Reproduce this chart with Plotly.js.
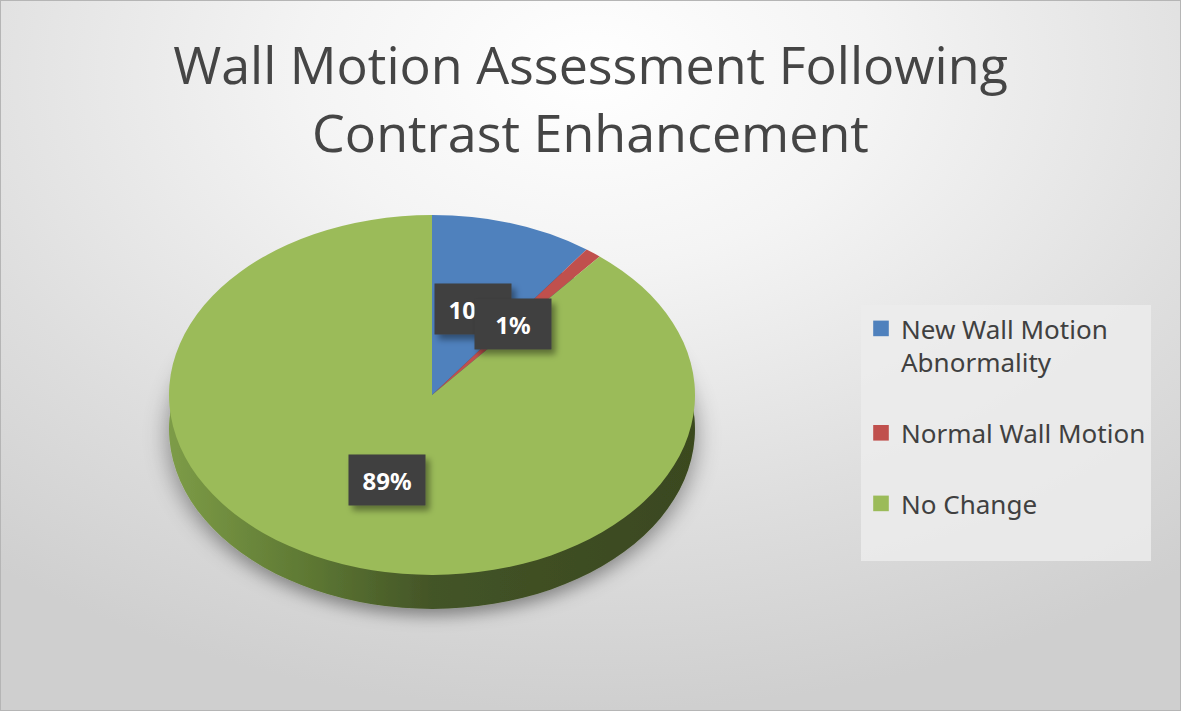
<!DOCTYPE html>
<html><head><meta charset="utf-8">
<script src="https://cdn.plot.ly/plotly-3.0.1.min.js"></script>
<style>
html,body{margin:0;padding:0;background:#ffffff;}
#chart{width:1181px;height:711px;background:radial-gradient(ellipse 80% 90% at 50% 10%, #ffffff 0%, #f4f4f4 30%, #dedede 70%, #cfcfcf 100%);}
</style></head><body><div id="chart"></div>
<script>
// ---- data ----
const categories = ["New Wall Motion Abnormality", "Normal Wall Motion", "No Change"];
const values = [10, 1, 89];
const topColors = ["#4f81bd", "#c0504d", "#9bbb59"];
const sideColors = ["#2f5077", "#7a2f2d", "#55702f"];
const chartTitle = "Wall Motion Assessment Following<br>Contrast Enhancement";

// legend display text (wrapped / spaced like the original legend)
const legendLabels = ["New Wall Motion<br>Abnormality<br> ", "Normal Wall Motion<br> ", "No Change<br> "];
const percentLabels = values.map(v => v + "%");

// ---- geometry (pixels) ----
const W = 1181, H = 711;
const CX = 432, CY = 395, R = 263, SQ = 0.684, DEPTH = 34;

function dom(cy) {
  return {
    x: [(CX - R) / W, (CX + R) / W],
    y: [1 - (cy + R) / H, 1 - (cy - R) / H]
  };
}

const sideTrace = {
  type: "pie", labels: legendLabels, values: values, sort: false, direction: "clockwise", rotation: 0,
  marker: {colors: sideColors, line: {width: 0}}, textinfo: "none", showlegend: false,
  domain: dom(CY + DEPTH), hoverinfo: "skip"
};
const topTrace = {
  type: "pie", labels: legendLabels, values: values, sort: false, direction: "clockwise", rotation: 0,
  marker: {colors: topColors, line: {width: 0}}, textinfo: "none",
  domain: dom(CY), hoverinfo: "skip"
};

// data labels positioned at the slice mid-angles (computed from values)
const total = values.reduce((a, b) => a + b, 0);
let cum = 0;
const F = 0.5;
const annotations = values.map((v, i) => {
  const mid = (cum + v / 2) / total; cum += v;
  const th = 2 * Math.PI * mid;
  const px = CX + F * R * Math.sin(th);
  const py = CY - F * R * SQ * Math.cos(th);
  return {
    xref: "paper", yref: "paper", x: px / W, y: 1 - py / H, xanchor: "center", yanchor: "middle",
    text: "<b>" + percentLabels[i] + "</b>", showarrow: false,
    font: {family: "Noto Sans", size: 24, color: "#ffffff"},
    bgcolor: "#3f3f3f", width: 76, height: 50, borderpad: 0
  };
});

const layout = {
  width: W, height: H,
  margin: {l: 0, r: 0, t: 0, b: 0},
  paper_bgcolor: "rgba(0,0,0,0)", plot_bgcolor: "rgba(0,0,0,0)",
  title: {
    text: chartTitle, x: 0.5, xanchor: "center", xref: "container",
    y: 1 - 84 / H, yanchor: "top", yref: "container",
    font: {family: "Open Sans", size: 52, color: "#454545", weight: 400}
  },
  legend: {
    x: 861 / W, xanchor: "left", y: 1 - 305 / H, yanchor: "top",
    bgcolor: "rgba(236,236,236,0.85)", borderwidth: 0, valign: "top",
    font: {family: "Noto Sans", size: 26, color: "#404040"}
  },
  annotations: annotations,
  shapes: [{type: "rect", xref: "paper", yref: "paper", x0: 0, x1: 1, y0: 0, y1: 1,
            line: {color: "#b5b5b5", width: 2}, layer: "above"}],
  hovermode: false
};

const gd = document.getElementById("chart");
Plotly.newPlot(gd, [sideTrace, topTrace], layout, {staticPlot: true, displayModeBar: false}).then(() => {
  const svgNS = "http://www.w3.org/2000/svg";
  const svg = gd.querySelector(".main-svg");
  let defs = svg.querySelector("defs");
  if (!defs) { defs = document.createElementNS(svgNS, "defs"); svg.insertBefore(defs, svg.firstChild); }
  defs.insertAdjacentHTML("beforeend",
    '<linearGradient id="sideGrad" x1="0" y1="0" x2="1" y2="0">' +
    '<stop offset="0" stop-color="#7d9c47"/><stop offset="0.28" stop-color="#5c7632"/>' +
    '<stop offset="0.5" stop-color="#435427"/><stop offset="1" stop-color="#3a481f"/></linearGradient>' +
    '<filter id="pieShadow" x="-20%" y="-20%" width="140%" height="150%">' +
    '<feDropShadow dx="0" dy="10" stdDeviation="12" flood-color="#000" flood-opacity="0.4"/></filter>' +
    '<filter id="lblShadow" x="-30%" y="-30%" width="170%" height="170%">' +
    '<feDropShadow dx="4" dy="5" stdDeviation="3" flood-color="#000" flood-opacity="0.4"/></filter>');
  const traces = gd.querySelectorAll(".pielayer .trace");
  traces.forEach((g, i) => {
    const bb = g.getBBox();
    const c = bb.y + bb.height / 2;
    g.setAttribute("transform", "matrix(1 0 0 " + SQ + " 0 " + (c * (1 - SQ)) + ")");
    if (i === 0) {
      g.setAttribute("filter", "url(#pieShadow)");
      const paths = g.querySelectorAll("path.surface");
      if (paths[2]) paths[2].style.fill = "url(#sideGrad)";
    }
  });
  gd.querySelectorAll(".annotation .bg").forEach(r => r.setAttribute("filter", "url(#lblShadow)"));
  gd.querySelectorAll(".legend .legendpoints path").forEach(p => {
    const t = p.getAttribute("transform") || "";
    p.setAttribute("transform", t + " scale(1.3)");
  });
});
</script></body></html>
